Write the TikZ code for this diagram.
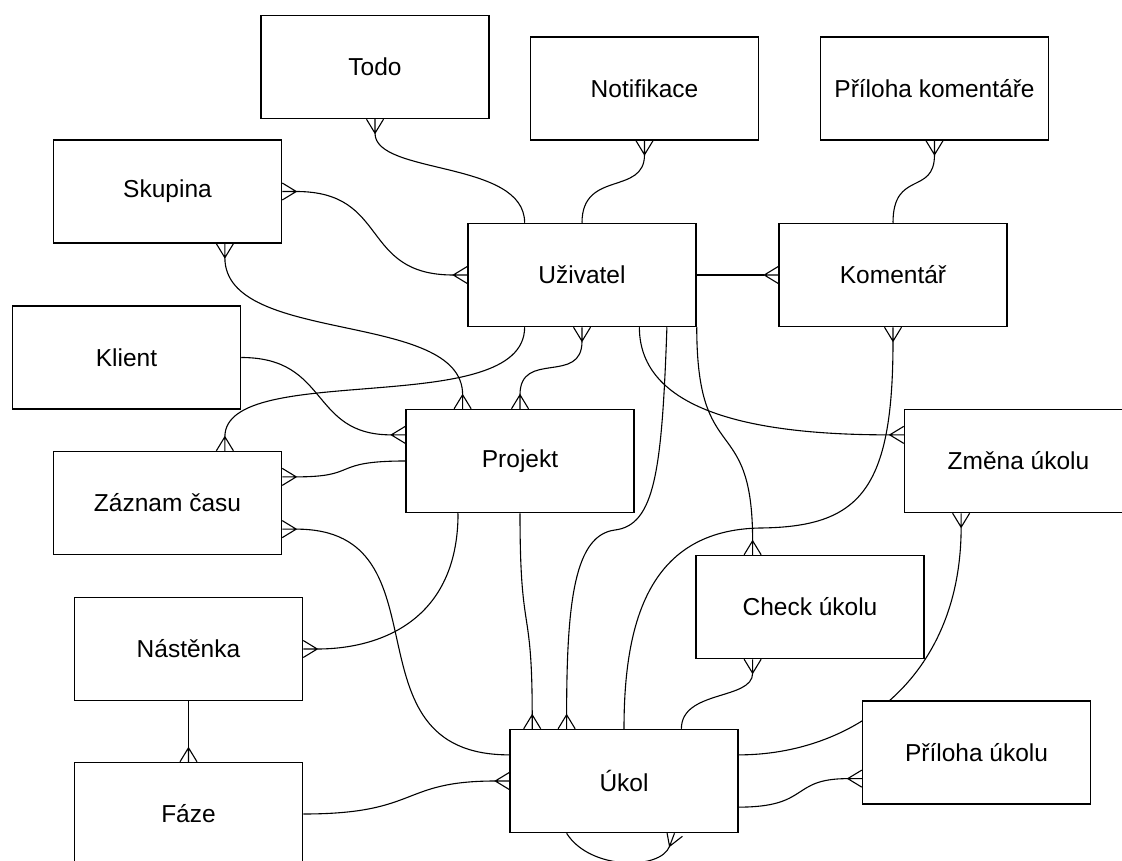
\documentclass[tikz,border=0pt]{standalone}
\usepackage{fontspec}
\setmainfont{Liberation Sans}
\usetikzlibrary{calc,arrows.meta}
\pgfdeclarelayer{bg}
\pgfsetlayers{bg,main}
\pgfdeclarearrow{
  name = Crow,
  parameters = {\the\pgfarrowlength,\the\pgfarrowwidth},
  setup code = {
    \pgfarrowssettipend{0pt}
    \pgfarrowssetlineend{-\pgfarrowlength}
    \pgfarrowssetbackend{-\pgfarrowlength}
    \pgfarrowssetvisualbackend{-\pgfarrowlength}
    \pgfarrowshullpoint{0pt}{.5\pgfarrowwidth}
    \pgfarrowshullpoint{0pt}{-.5\pgfarrowwidth}
    \pgfarrowshullpoint{-\pgfarrowlength}{0pt}
    \pgfarrowssavethe\pgfarrowlength
    \pgfarrowssavethe\pgfarrowwidth
  },
  drawing code = {
    \pgfsetdash{}{0pt}
    \pgfpathmoveto{\pgfqpoint{0pt}{.5\pgfarrowwidth}}
    \pgfpathlineto{\pgfqpoint{-\pgfarrowlength}{0pt}}
    \pgfpathlineto{\pgfqpoint{0pt}{-.5\pgfarrowwidth}}
    \pgfpathmoveto{\pgfqpoint{-\pgfarrowlength}{0pt}}
    \pgfpathlineto{\pgfqpoint{0pt}{0pt}}
    \pgfusepathqstroke
  },
  defaults = {length = 14pt, width = 17pt}
}
\begin{document}
\begin{tikzpicture}[x=1pt,y=-1pt,
  ent/.style={draw, line width=1.5pt, fill=white, minimum width=228pt, minimum height=103pt,
    inner sep=0pt, font=\fontsize{24.5}{28}\selectfont},
  rel/.style={line width=1.1pt}]
\useasboundingbox (0,0) rectangle (1122,861);
% entities
\node[ent] (todo) at (375,67) {Todo};
\node[ent] (notif) at (644.5,88.5) {Notifikace};
\node[ent] (prilkom) at (934.5,88.5) {Příloha komentáře};
\node[ent] (skup) at (167.5,191.5) {Skupina};
\node[ent] (uziv) at (582,275) {Uživatel};
\node[ent] (koment) at (893,275) {Komentář};
\node[ent] (klient) at (126.5,357.5) {Klient};
\node[ent] (projekt) at (520,461) {Projekt};
\node[ent] (zaznam) at (167.5,503) {Záznam času};
\node[ent] (zmena) at (1018.5,461) {Změna úkolu};
\node[ent] (check) at (810,607) {Check úkolu};
\node[ent] (nastenka) at (188.5,649) {Nástěnka};
\node[ent] (ukol) at (624,781) {Úkol};
\node[ent] (prilukol) at (976.5,752.5) {Příloha úkolu};
\node[ent] (faze) at (188.5,814) {Fáze};
% attachment points
\coordinate (u-n1) at ($(uziv.north west)!0.25!(uziv.north east)$);
\coordinate (u-s1) at ($(uziv.south west)!0.25!(uziv.south east)$);
\coordinate (u-s3) at ($(uziv.south west)!0.75!(uziv.south east)$);
\coordinate (u-s4) at ($(uziv.south west)!0.87!(uziv.south east)$);
\coordinate (s-s3) at ($(skup.south west)!0.75!(skup.south east)$);
\coordinate (p-n1) at ($(projekt.north west)!0.25!(projekt.north east)$);
\coordinate (p-s1) at ($(projekt.south west)!0.23!(projekt.south east)$);
\coordinate (p-w1) at ($(projekt.north west)!0.25!(projekt.south west)$);
\coordinate (z-n3) at ($(zaznam.north west)!0.75!(zaznam.north east)$);
\coordinate (z-e1) at ($(zaznam.north east)!0.25!(zaznam.south east)$);
\coordinate (z-e3) at ($(zaznam.north east)!0.75!(zaznam.south east)$);
\coordinate (k-n0) at ($(ukol.north west)!0.1!(ukol.north east)$);
\coordinate (k-n1) at ($(ukol.north west)!0.25!(ukol.north east)$);
\coordinate (k-n3) at ($(ukol.north west)!0.75!(ukol.north east)$);
\coordinate (k-w1) at ($(ukol.north west)!0.25!(ukol.south west)$);
\coordinate (k-e1) at ($(ukol.north east)!0.25!(ukol.south east)$);
\coordinate (k-e3) at ($(ukol.north east)!0.75!(ukol.south east)$);
\coordinate (k-s1) at ($(ukol.south west)!0.25!(ukol.south east)$);
\coordinate (k-s2) at ($(ukol.south west)!0.72!(ukol.south east)$);
\coordinate (c-n1) at ($(check.north west)!0.25!(check.north east)$);
\coordinate (c-s1) at ($(check.south west)!0.25!(check.south east)$);
\coordinate (zm-w1) at ($(zmena.north west)!0.25!(zmena.south west)$);
\coordinate (zm-s1) at ($(zmena.south west)!0.25!(zmena.south east)$);
\coordinate (pu-w3) at ($(prilukol.north west)!0.75!(prilukol.south west)$);
\coordinate (w13) at (615,530);
\coordinate (w16) at (760,528);
% relationships
\begin{pgfonlayer}{bg}
\draw[rel,{Crow}-] (todo.south) .. controls +(0,56) and +(0,-63) .. (u-n1);
\draw[rel,{Crow}-] (notif.south) .. controls +(0,55) and +(0,-53) .. (uziv.north);
\draw[rel,{Crow}-] (prilkom.south) .. controls +(0,55) and +(0,-53) .. (koment.north);
\draw[rel,{Crow}-{Crow}] (skup.east) .. controls +(108,0) and +(-108,0) .. (uziv.west);
\draw[rel,-{Crow}] (uziv.east) -- (koment.west);
\draw[rel,{Crow}-{Crow}] (s-s3) .. controls +(0,102) and +(0,-99) .. (p-n1);
\draw[rel,-{Crow}] (klient.east) .. controls +(89,0) and +(-96,0) .. (p-w1);
\draw[rel,-{Crow}] (u-s1) .. controls +(0,93) and +(0,-91) .. (z-n3);
\draw[rel,{Crow}-{Crow}] (uziv.south) .. controls +(0,58) and +(0,-59) .. (projekt.north);
\draw[rel,-{Crow}] (projekt.west) .. controls +(-76,0) and +(78,0) .. (z-e1);
\draw[rel,{Crow}-] (z-e3) .. controls +(170,0) and +(-170,0) .. (k-w1);
\draw[rel,-{Crow}] (projekt.south) .. controls +(0,127) and +(0,-129) .. (k-n0);
\draw[rel,-{Crow}] (u-s4) .. controls +(-5,143) and +(40,-5) .. (w13)
   .. controls +(-40,5) and +(0,-129) .. (k-n1);
\draw[rel,-{Crow}] (u-s3) .. controls +(0,93) and +(-124,0) .. (zm-w1);
\draw[rel,-{Crow}] (uziv.south east) .. controls +(0,143) and +(0,-145) .. (c-n1);
\draw[rel,{Crow}-] (koment.south) .. controls +(0,163) and +(100,-1) .. (w16)
   .. controls +(-110,2) and +(0,-109) .. (ukol.north);
\draw[rel,{Crow}-] (c-s1) .. controls +(0,41) and +(0,-39) .. (k-n3);
\draw[rel,{Crow}-] (zm-s1) .. controls +(0,167) and +(112,0) .. (k-e1);
\draw[rel,-{Crow}] (k-e3) .. controls +(72,0) and +(-72,0) .. (pu-w3);
\draw[rel,-{Crow}] (faze.east) .. controls +(117,0) and +(-110,0) .. (ukol.west);
\draw[rel,-{Crow}] (k-s1) .. controls +(23,37) and +(-14,37) .. (k-s2);
\draw[rel,-{Crow}] (nastenka.south) -- (faze.north);
\draw[rel,-{Crow}] (p-s1) .. controls +(0,107) and +(77,0) .. (nastenka.east);
\end{pgfonlayer}
\end{tikzpicture}
\end{document}
